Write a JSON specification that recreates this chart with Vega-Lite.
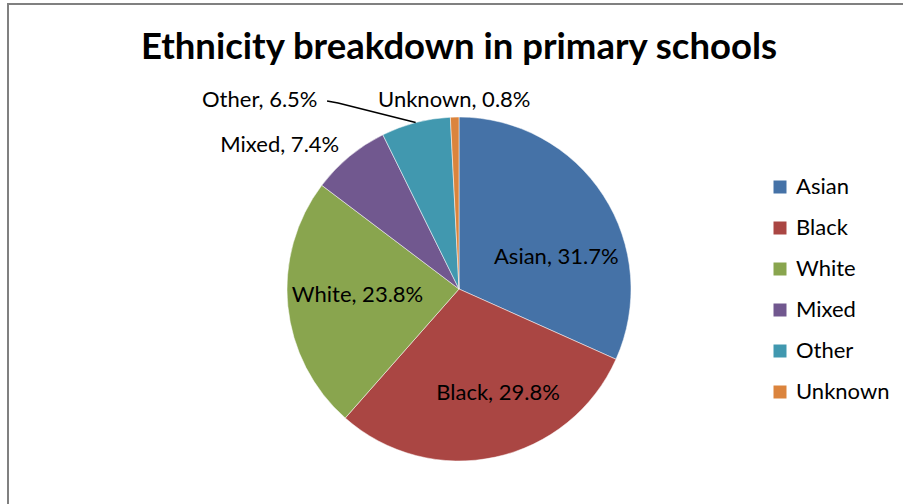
{
  "$schema": "https://vega.github.io/schema/vega-lite/v6.json",
  "autosize": {"type": "fit", "contains": "padding"},
  "width": 903,
  "height": 504,
  "padding": {"left": 8, "top": 4, "right": -7, "bottom": -70},
  "background": "white",
  "config": {
    "view": {"stroke": "#808080", "strokeWidth": 2},
    "font": "Lato"
  },
  "title": {
    "text": "Ethnicity breakdown in primary schools",
    "font": "Lato",
    "fontSize": 36.5,
    "fontWeight": "bold",
    "color": "#000000",
    "anchor": "middle",
    "offset": -62
  },
  "datasets": {
    "ethnicity": [
      {"group": "Asian", "share": 31.7, "order": 1},
      {"group": "Black", "share": 29.8, "order": 2},
      {"group": "White", "share": 23.8, "order": 3},
      {"group": "Mixed", "share": 7.4, "order": 4},
      {"group": "Other", "share": 6.5, "order": 5},
      {"group": "Unknown", "share": 0.8, "order": 6}
    ],
    "leader": [
      {"px": -0.767, "py": 1.093, "step": 1},
      {"px": -0.703, "py": 1.081, "step": 2},
      {"px": -0.252, "py": 0.968, "step": 3}
    ]
  },
  "data": {"name": "ethnicity"},
  "transform": [
    {"stack": "share", "groupby": [], "sort": [{"field": "order", "order": "ascending"}], "as": ["start", "end"]},
    {"calculate": "(datum.start + datum.end) / 2", "as": "mid"},
    {"calculate": "datum.group + ', ' + format(datum.share, '.1f') + '%'", "as": "label"}
  ],
  "layer": [
    {
      "mark": {"type": "arc", "radius": 172, "stroke": "white", "strokeWidth": 0.5},
      "encoding": {
        "theta": {"field": "start", "type": "quantitative", "scale": {"domain": [0, 100]}},
        "theta2": {"field": "end"},
        "color": {
          "field": "group",
          "type": "nominal",
          "scale": {
            "domain": ["Asian", "Black", "White", "Mixed", "Other", "Unknown"],
            "range": ["#4572A7", "#AA4643", "#89A54E", "#71588F", "#4198AF", "#DB843D"]
          },
          "legend": {
            "title": null,
            "orient": "none",
            "legendX": 761,
            "legendY": 172,
            "symbolType": "square",
            "symbolSize": 169,
            "symbolStrokeWidth": 0,
            "labelFont": "Lato",
            "labelFontSize": 22,
            "labelColor": "#000000",
            "labelOffset": 5,
            "rowPadding": 19
          }
        }
      }
    },
    {
      "transform": [{"filter": "datum.group === 'Asian'"}],
      "mark": {"type": "text", "radius": 104, "dx": 10, "dy": 25, "fontSize": 22, "color": "#000000"},
      "encoding": {
        "theta": {"field": "mid", "type": "quantitative", "scale": {"domain": [0, 100]}},
        "text": {"field": "label"}
      }
    },
    {
      "transform": [{"filter": "datum.group === 'Black'"}],
      "mark": {"type": "text", "radius": 104, "dx": 17, "dy": 2, "fontSize": 22, "color": "#000000"},
      "encoding": {
        "theta": {"field": "mid", "type": "quantitative", "scale": {"domain": [0, 100]}},
        "text": {"field": "label"}
      }
    },
    {
      "transform": [{"filter": "datum.group === 'White'"}],
      "mark": {"type": "text", "radius": 104, "dx": 2, "dy": -4, "fontSize": 22, "color": "#000000"},
      "encoding": {
        "theta": {"field": "mid", "type": "quantitative", "scale": {"domain": [0, 100]}},
        "text": {"field": "label"}
      }
    },
    {
      "transform": [{"filter": "datum.group === 'Mixed'"}],
      "mark": {"type": "text", "radius": 231, "dx": -32, "dy": 34, "fontSize": 22, "color": "#000000"},
      "encoding": {
        "theta": {"field": "mid", "type": "quantitative", "scale": {"domain": [0, 100]}},
        "text": {"field": "label"}
      }
    },
    {
      "transform": [{"filter": "datum.group === 'Other'"}],
      "mark": {"type": "text", "radius": 275, "dx": -130, "dy": 77, "fontSize": 22, "color": "#000000"},
      "encoding": {
        "theta": {"field": "mid", "type": "quantitative", "scale": {"domain": [0, 100]}},
        "text": {"field": "label"}
      }
    },
    {
      "transform": [{"filter": "datum.group === 'Unknown'"}],
      "mark": {"type": "text", "radius": 189, "dx": 0, "dy": 0, "fontSize": 22, "color": "#000000"},
      "encoding": {
        "theta": {"field": "mid", "type": "quantitative", "scale": {"domain": [0, 100]}},
        "text": {"field": "label"}
      }
    },
    {
      "data": {"name": "leader"},
      "mark": {"type": "line", "color": "#000000", "strokeWidth": 1.5},
      "encoding": {
        "x": {"field": "px", "type": "quantitative", "scale": {"domain": [-2.622, 2.622], "nice": false, "zero": false}, "axis": null},
        "y": {"field": "py", "type": "quantitative", "scale": {"domain": [-1.657, 1.657], "nice": false, "zero": false}, "axis": null},
        "order": {"field": "step", "type": "quantitative"}
      }
    }
  ]
}
